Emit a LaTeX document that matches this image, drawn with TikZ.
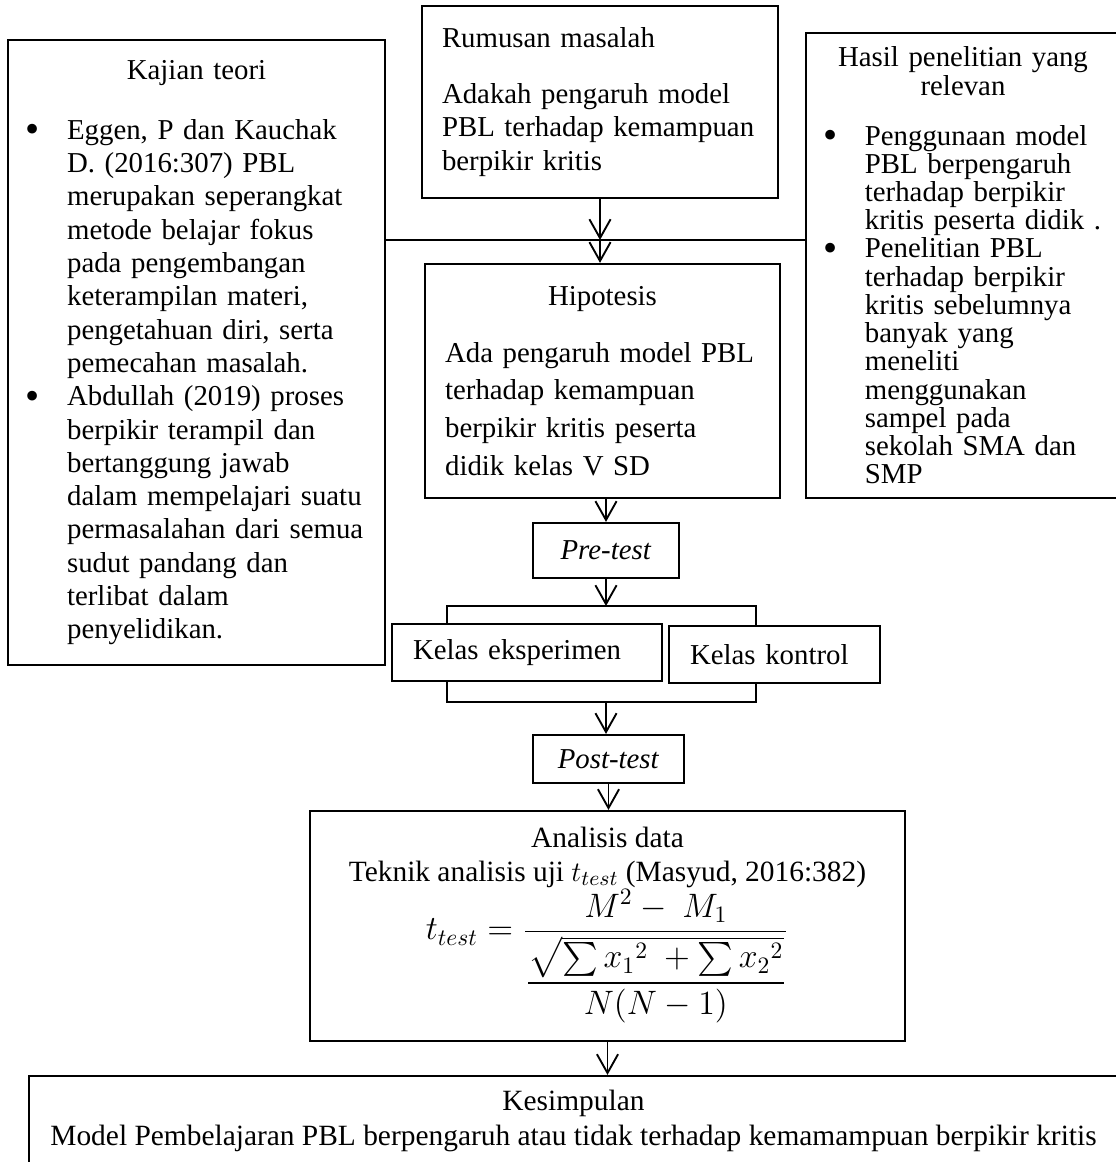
\documentclass[tikz,border=0pt]{standalone}
\usepackage{fontspec}
\usepackage{amsmath}
\setmainfont{Liberation Serif}
\usetikzlibrary{arrows.meta}

\newcommand{\titik}{\raisebox{-0.12em}{\scalebox{1.4}{\textbullet}}}
\newenvironment{poin}[1]
  {\begin{list}{\titik}
    {\setlength\leftmargin{#1}\setlength\labelsep{11.5pt}%
     \setlength\labelwidth{\dimexpr#1-11.5pt\relax}%
     \setlength\topsep{0pt}\setlength\partopsep{0pt}%
     \setlength\itemsep{0pt}\setlength\parsep{0pt}}}
  {\end{list}}

\begin{document}
\begin{tikzpicture}
    [ x=0.425pt, y=-0.425pt
    , kotak/.style={draw, line width=0.9pt, inner sep=0pt, font=\fontsize{12.25}{14.15}\selectfont}
    , panah/.style={-{Straight Barb[length=8pt,width=9pt]}, line width=0.8pt}
    , garis/.style={line width=0.5pt}
    ]
\useasboundingbox (0,0) rectangle (1116,1162);

\node[kotak, minimum width=160.2pt, minimum height=265.6pt, text width=153.4pt] (kajian) at (196.5,352.5)
  {{\centering Kajian teori\par}\vspace{11.5pt}
   \begin{poin}{21.7pt}
   \item Eggen, P dan Kauchak\\ D. (2016:307) PBL\\ merupakan seperangkat\\ metode belajar fokus\\ pada pengembangan\\ keterampilan materi,\\ pengetahuan diri, serta\\ pemecahan masalah.
   \item Abdullah (2019) proses\\ berpikir terampil dan\\ bertanggung jawab\\ dalam mempelajari suatu\\ permasalahan dari semua\\ sudut pandang dan\\ terlibat dalam\\ penyelidikan.
   \end{poin}};
\node[kotak, minimum width=151.3pt, minimum height=81.6pt, text width=144.5pt] (rumusan) at (600,102)
  {\leftskip=5.1pt Rumusan masalah\par\vspace{9.6pt}
   Adakah pengaruh model\\ PBL terhadap kemampuan\\ berpikir kritis\par};
\node[kotak, minimum width=150.9pt, minimum height=99.5pt, text width=144pt] (hipotesis) at (602.5,381)
  {{\centering Hipotesis\par}\vspace{8pt}
   {\leftskip=5.1pt \fontsize{12.25}{16}\selectfont Ada pengaruh model PBL\\ terhadap kemampuan\\ berpikir kritis peserta\\ didik kelas V SD\par}};
\node[kotak, minimum width=133.5pt, minimum height=197.6pt, text width=128.4pt, font=\fontsize{12.25}{12}\selectfont] (hasil) at (963,265.5)
  {{\centering Hasil penelitian yang\\ relevan\par}\vspace{9.2pt}
   \begin{poin}{22.5pt}
   \item Penggunaan model\\ PBL berpengaruh\\ terhadap berpikir\\ kritis peserta didik .
   \item Penelitian PBL\\ terhadap berpikir\\ kritis sebelumnya\\ banyak yang\\ meneliti\\ menggunakan\\ sampel pada\\ sekolah SMA dan\\ SMP
   \end{poin}};

\node[kotak, minimum width=62pt, minimum height=23.4pt] (pretest) at (606,550.5) {\textit{Pre-test}};
\node[kotak, minimum width=114.75pt, minimum height=24.2pt, text width=96.9pt] (eksperimen) at (527,652.5) {Kelas eksperimen};
\node[kotak, minimum width=89.7pt, minimum height=24.2pt, text width=71.8pt] (kontrol) at (774.5,654.5) {Kelas kontrol};
\node[kotak, minimum width=64.2pt, minimum height=20.4pt] (posttest) at (608.5,759) {\textit{Post-test}};
\node[kotak, minimum width=252.9pt, minimum height=97.75pt, align=center, font=\fontsize{12.5}{14.5}\selectfont] (analisis) at (607.5,926)
  {Analisis data\\ Teknik analisis uji $t_{test}$ (Masyud, 2016:382)\\[-0.2pt]
   {\fontsize{14}{16}\selectfont$\displaystyle t_{test}=\frac{M^2-\ M_1}{\dfrac{\sqrt{\sum x_1{}^2\ +\sum x_2{}^2}}{N(N-1)}}$}\rule[-36.2pt]{0pt}{1pt}}; % lifts the text
\node[kotak, minimum width=462.8pt, minimum height=38.25pt, align=center, font=\fontsize{12.5}{14.5}\selectfont] (kesimpulan) at (573.5,1121)
  {Kesimpulan\\ Model Pembelajaran PBL berpengaruh atau tidak terhadap kemamampuan berpikir kritis};

% connectors
\coordinate (simpul) at (600,240);
\coordinate (cabang) at (606,606);
\coordinate (gabung) at (606,702);
\coordinate (kiri) at (447,606);
\coordinate (kanan) at (756,606);
\draw[garis] (kajian.east |- simpul) -- (hasil.west |- simpul);
\draw[panah] (rumusan.south) -- (simpul);
\draw[panah] (simpul) -- (simpul |- hipotesis.north);
\draw[panah] (pretest.north |- hipotesis.south) -- (pretest.north);
\draw[panah] (pretest.south) -- (cabang);
\draw[garis] (kiri |- eksperimen.north) -- (kiri) -- (kanan) -- (kanan |- kontrol.north);
\draw[garis] (kiri |- eksperimen.south) -- (kiri |- gabung) -- (kanan |- gabung) -- (kanan |- kontrol.south); % joined below
\draw[panah] (gabung) -- (gabung |- posttest.north);
\draw[panah] (posttest.south) -- (posttest.south |- analisis.north);
\draw[panah] (analisis.south) -- (analisis.south |- kesimpulan.north);

\end{tikzpicture}
\end{document}
